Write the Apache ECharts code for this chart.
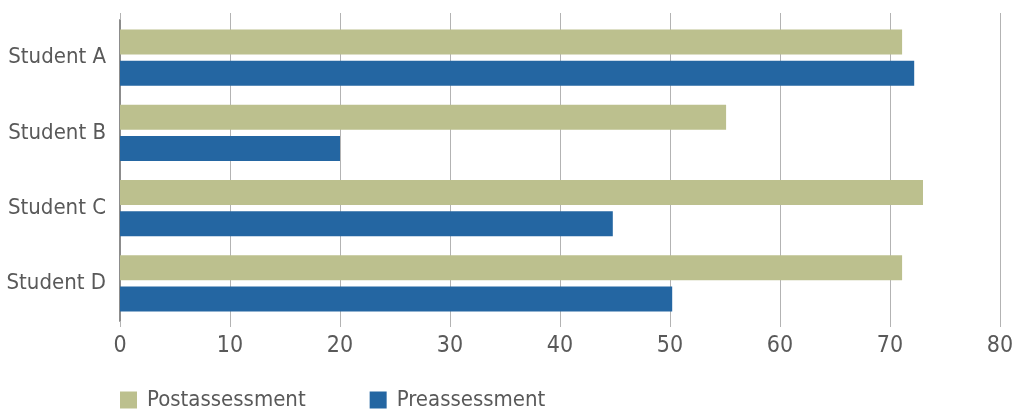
<!DOCTYPE html>
<html>
<head>
<meta charset="utf-8">
<script src="https://cdn.jsdelivr.net/npm/echarts@6/dist/echarts.min.js"></script>
<style>
  html, body { margin: 0; padding: 0; background: #fff; }
  #echartsMain { width: 1016px; height: 413px; }
</style>
</head>
<body>
<div id="echartsMain"></div>
<script>
// data
var students = ['Student A', 'Student B', 'Student C', 'Student D'];
var postValues = [71.1, 55.1, 73.0, 71.1];
var preValues = [72.2, 20.0, 44.8, 50.2];
var seriesNames = ['Postassessment', 'Preassessment'];

var fontFam = "'Liberation Sans Narrow', 'DejaVu Sans Condensed', 'Roboto', sans-serif";
var txtColor = '#595959';
var gridColor = '#b3b3b3';

var myChart = echarts.init(document.getElementById('echartsMain'));

var option = {
	animation: false,
	textStyle: { fontFamily: fontFam },
	grid: { left: 120, right: 16, top: 20, bottom: 92, outerBoundsMode: 'none', containLabel: false },
	legend: {
		left: 115,
		top: 384,
		itemWidth: 17,
		itemHeight: 17,
		itemGap: 64,
		icon: 'rect',
		data: seriesNames,
		textStyle: { fontFamily: fontFam, fontSize: 22, color: txtColor, padding: [0, 0, 0, 5] }
	},
	xAxis: [{
		type: 'value',
		min: 0,
		max: 80,
		interval: 10,
		axisLine: { show: false },
		axisTick: { show: true, length: 6, lineStyle: { color: gridColor } },
		axisLabel: { fontFamily: fontFam, fontSize: 23, color: txtColor, margin: 14 },
		splitLine: { show: true, lineStyle: { color: gridColor, width: 1 } }
	}, {
		// only used to draw the short tick stubs above the plot
		type: 'value',
		position: 'top',
		min: 0,
		max: 80,
		interval: 10,
		axisLine: { show: false },
		axisTick: { show: true, length: 7, lineStyle: { color: gridColor } },
		axisLabel: { show: false },
		splitLine: { show: false }
	}],
	yAxis: {
		type: 'category',
		inverse: true,
		data: students,
		axisLine: { show: true, lineStyle: { color: '#8c8c8c', width: 2 } },
		axisTick: { show: false },
		axisLabel: { fontFamily: fontFam, fontSize: 22, color: txtColor, margin: 14 }
	},
	series: [{
		name: seriesNames[0],
		type: 'bar',
		data: postValues,
		barGap: '24%',
		barCategoryGap: '25.5%',
		itemStyle: { color: '#bcc08e' }
	}, {
		name: seriesNames[1],
		type: 'bar',
		data: preValues,
		itemStyle: { color: '#2466a2' }
	}]
};

myChart.setOption(option);
</script>
</body>
</html>
